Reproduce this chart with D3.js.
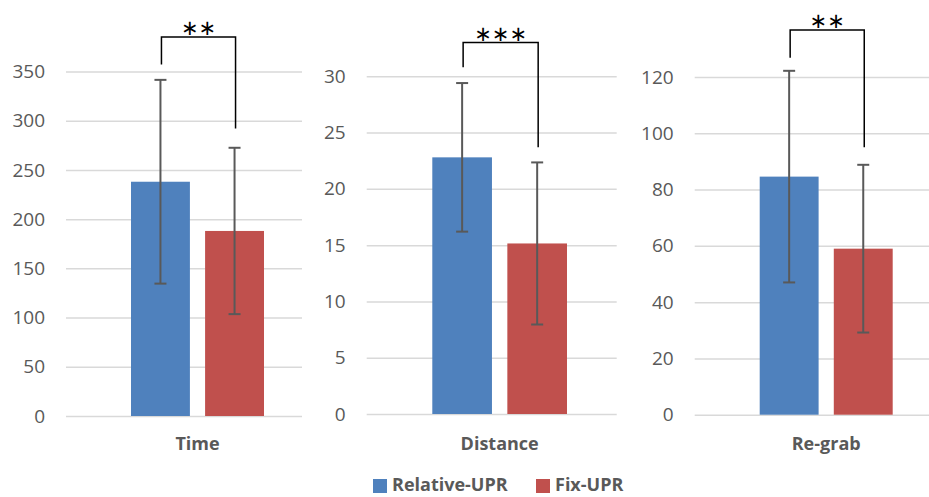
<!DOCTYPE html>
<html>
<head>
<meta charset="utf-8">
<script src="https://cdn.jsdelivr.net/npm/d3@7"></script>
<style>
  html, body { margin: 0; padding: 0; background: #ffffff; }
  svg { display: block; }
</style>
</head>
<body>
<svg id="chart" width="929" height="497"></svg>
<script>
// ---- data ----
const categories = ["Time", "Distance", "Re-grab"];
const seriesNames = ["Relative-UPR", "Fix-UPR"];
const relativeMeans = [238, 22.8, 84.6];
const relativeSD = [103.5, 6.6, 37.6];
const fixMeans = [188, 15.15, 59];
const fixSD = [84.5, 7.2, 29.8];
const tickValues = [
  [0, 50, 100, 150, 200, 250, 300, 350],
  [0, 5, 10, 15, 20, 25, 30],
  [0, 20, 40, 60, 80, 100, 120]
];
const significance = ["**", "***", "**"];
// bracket annotation levels (data units)
const bracketTop = [385, 33, 136.7];
const bracketLeftEnd = [357, 30.8, 126.8];
const bracketRightEnd = [292, 23.7, 95];

// ---- layout ----
const panels = [
  { gx0: 66,    gx1: 302,   y0: 416,   yTop: 71.5, bx0: 131,   bx1: 264 },
  { gx0: 366.7, gx1: 616.7, y0: 414,   yTop: 76.3, bx0: 432.3, bx1: 567 },
  { gx0: 694.7, gx1: 929,   y0: 414.7, yTop: 77,   bx0: 759.7, bx1: 892.7 }
];
const colors = ["#4f81bd", "#c0504d"];
const textColor = "#595959";
const gridColor = "#d9d9d9";
const errColor = "#595959";
const font = "'Open Sans', 'Liberation Sans', sans-serif";

const svg = d3.select("#chart");

categories.forEach((cat, i) => {
  const p = panels[i];
  const maxV = tickValues[i][tickValues[i].length - 1];
  const y = d3.scaleLinear().domain([0, maxV]).range([p.y0, p.yTop]);
  const x = d3.scaleBand().domain(seriesNames).range([p.bx0, p.bx1]).paddingInner(0.205).paddingOuter(0);
  const g = svg.append("g");

  // axis with gridlines
  const axis = d3.axisLeft(y).tickValues(tickValues[i]).tickSizeInner(-(p.gx1 - p.gx0)).tickSizeOuter(0).tickPadding(21).tickFormat(d3.format("d"));
  const ax = g.append("g").attr("transform", `translate(${p.gx0},0)`).call(axis);
  ax.select(".domain").remove();
  ax.selectAll(".tick line").attr("stroke", gridColor).attr("stroke-width", 1.5);
  ax.selectAll(".tick text").attr("fill", textColor).style("font-family", font).style("font-size", "19px");

  const means = [relativeMeans[i], fixMeans[i]];
  const sds = [relativeSD[i], fixSD[i]];
  const rows = seriesNames.map((s, k) => ({ s, m: means[k], sd: sds[k], c: colors[k] }));

  g.selectAll("rect.bar").data(rows).enter().append("rect")
    .attr("class", "bar")
    .attr("x", d => x(d.s))
    .attr("width", x.bandwidth())
    .attr("y", d => y(d.m))
    .attr("height", d => y(0) - y(d.m))
    .attr("fill", d => d.c);

  // error bars
  const cap = 6;
  rows.forEach(d => {
    const cx = x(d.s) + x.bandwidth() / 2;
    const hi = y(d.m + d.sd), lo = y(d.m - d.sd);
    g.append("line").attr("x1", cx).attr("x2", cx).attr("y1", hi).attr("y2", lo).attr("stroke", errColor).attr("stroke-width", 2);
    g.append("line").attr("x1", cx - cap).attr("x2", cx + cap).attr("y1", hi).attr("y2", hi).attr("stroke", errColor).attr("stroke-width", 2);
    g.append("line").attr("x1", cx - cap).attr("x2", cx + cap).attr("y1", lo).attr("y2", lo).attr("stroke", errColor).attr("stroke-width", 2);
  });

  // significance bracket
  const lx = x(seriesNames[0]) + x.bandwidth() / 2 + 1;
  const rx = x(seriesNames[1]) + x.bandwidth() / 2 + 1;
  const path = d3.path();
  path.moveTo(lx, y(bracketLeftEnd[i]));
  path.lineTo(lx, y(bracketTop[i]));
  path.lineTo(rx, y(bracketTop[i]));
  path.lineTo(rx, y(bracketRightEnd[i]));
  g.append("path").attr("d", path.toString()).attr("fill", "none").attr("stroke", "#000").attr("stroke-width", 1.5);
  g.append("text")
    .attr("x", (lx + rx) / 2)
    .attr("y", y(bracketTop[i]) - 2)
    .attr("text-anchor", "middle")
    .style("font-family", "'DejaVu Sans', sans-serif")
    .style("font-size", "21px")
    .attr("fill", "#000")
    .text(significance[i].replace(/\*/g, "\u2217"));

  // category label
  g.append("text")
    .attr("x", (p.bx0 + p.bx1) / 2)
    .attr("y", 444)
    .attr("dy", "0.35em")
    .attr("text-anchor", "middle")
    .attr("fill", textColor)
    .style("font-family", font)
    .style("font-size", "18px")
    .style("font-weight", "bold")
    .text(cat);
});

// legend
const legendItems = [
  { name: seriesNames[0], c: colors[0], x: 373 },
  { name: seriesNames[1], c: colors[1], x: 536 }
];
const lg = svg.append("g");
legendItems.forEach(d => {
  lg.append("rect").attr("x", d.x).attr("y", 479).attr("width", 14).attr("height", 14).attr("fill", d.c);
  lg.append("text").attr("x", d.x + 19).attr("y", 491)
    .attr("fill", textColor)
    .style("font-family", font)
    .style("font-size", "18px")
    .style("font-weight", "bold")
    .text(d.name);
});
</script>
</body>
</html>
